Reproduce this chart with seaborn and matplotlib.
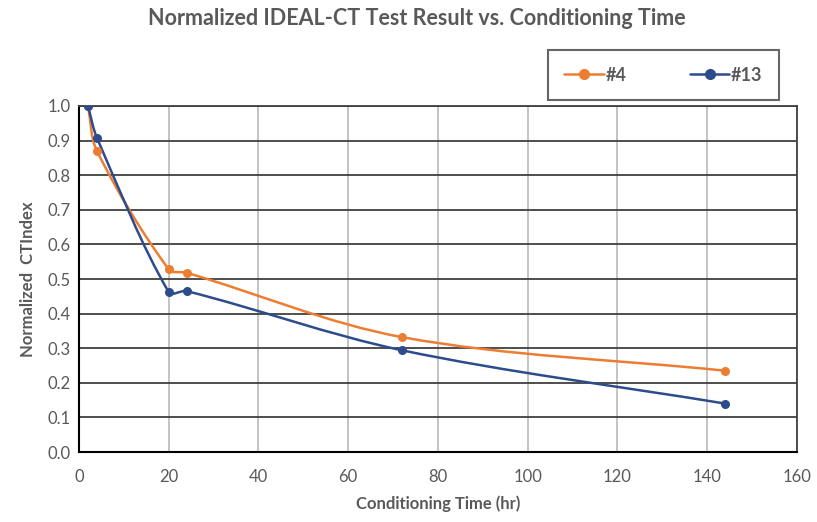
import numpy as np
import pandas as pd
import matplotlib
matplotlib.use("Agg")
import matplotlib.pyplot as plt
from matplotlib.path import Path
from matplotlib.patches import PathPatch
from matplotlib.ticker import MultipleLocator
import seaborn as sns

# data
hours = [2, 4, 20, 24, 72, 144]
ct_4 = [1.0, 0.87, 0.528, 0.518, 0.332, 0.235]
ct_13 = [1.0, 0.908, 0.462, 0.465, 0.294, 0.140]
series_names = ["#4", "#13"]
colors = ["#ED7D31", "#2C4C8C"]

df = pd.DataFrame({
    "hr": hours * 2,
    "ct": ct_4 + ct_13,
    "mix": [series_names[0]] * len(hours) + [series_names[1]] * len(hours),
})

sns.set_style("white")
plt.rcParams["font.family"] = ["Lato", "DejaVu Sans"]
text_col = "#595959"

# rough pixel size of one data unit, so smoothing behaves like on screen
SX, SY = 4.49, 346.0


def smooth_path(x, y):
    # smoothed line, bezier with chord-length scaled tangents
    pts = np.column_stack([np.asarray(x) * SX, np.asarray(y) * SY]).astype(float)
    n = len(pts)
    d = np.linalg.norm(np.diff(pts, axis=0), axis=1)
    tang = np.zeros_like(pts)
    for i in range(n):
        if i == 0:
            tang[i] = (pts[1] - pts[0]) / d[0]
        elif i == n - 1:
            tang[i] = (pts[-1] - pts[-2]) / d[-1]
        else:
            tang[i] = (pts[i + 1] - pts[i - 1]) / (d[i - 1] + d[i])
    verts = [pts[0]]
    codes = [Path.MOVETO]
    for i in range(n - 1):
        c1 = pts[i] + tang[i] * d[i] / 3
        c2 = pts[i + 1] - tang[i + 1] * d[i] / 3
        verts += [c1, c2, pts[i + 1]]
        codes += [Path.CURVE4] * 3
    verts = np.array(verts) / [SX, SY]
    return Path(verts, codes)


fig = plt.figure(figsize=(8.17, 5.22), dpi=100)
ax = fig.add_axes([0.0967, 0.134, 0.8788, 0.663])

for name, col in zip(series_names, colors):
    sub = df[df["mix"] == name]
    ax.add_patch(PathPatch(smooth_path(sub["hr"], sub["ct"]), fill=False,
                           edgecolor=col, lw=1.8, zorder=3))

sns.lineplot(data=df, x="hr", y="ct", hue="mix", palette=colors, marker="o",
             markersize=6.5, markeredgewidth=0, linewidth=0, ax=ax, legend=False,
             zorder=4)

ax.set_xlim(0, 160)
ax.set_ylim(0, 1.0)
ax.xaxis.set_major_locator(MultipleLocator(20))
ax.xaxis.set_minor_locator(MultipleLocator(4))
ax.set_yticks(np.arange(0, 1.01, 0.1))
ax.set_yticklabels([f"{v:.1f}" for v in np.arange(0, 1.01, 0.1)])

ax.grid(axis="x", color="#BFBFBF", lw=1.3)
ax.grid(axis="y", color="#404040", lw=1.3)
ax.set_axisbelow(True)
for side in ["left", "bottom"]:
    ax.spines[side].set_color("black")
    ax.spines[side].set_linewidth(1.5)
for side in ["top", "right"]:
    ax.spines[side].set_color("#404040")
    ax.spines[side].set_linewidth(1.3)

ax.tick_params(axis="x", which="both", direction="in", length=5, color="black",
               labelsize=12, labelcolor=text_col, pad=12)
ax.tick_params(axis="y", which="both", direction="out", length=0,
               labelsize=12, labelcolor=text_col, pad=6)

ax.set_xlabel("Conditioning Time (hr)", fontsize=12, fontweight="bold",
              color=text_col, labelpad=8)
ax.set_ylabel("Normalized  CTIndex", fontsize=12, fontweight="bold",
              color=text_col, labelpad=8)
fig.suptitle("Normalized IDEAL-CT Test Result vs. Conditioning Time",
             x=0.51, y=0.985, fontsize=15.5, fontweight="bold", color=text_col)

handles = [plt.Line2D([], [], color=c, marker="o", markersize=7, lw=1.8)
           for c in colors]
leg = fig.legend(handles, series_names, ncol=2, loc="center",
                 bbox_to_anchor=(0.812, 0.856), frameon=True, fancybox=False,
                 fontsize=13, handlelength=2.2, handletextpad=0.1,
                 columnspacing=3.5, borderpad=0.9, borderaxespad=0)
leg.get_frame().set_edgecolor("#404040")
leg.get_frame().set_linewidth(1.5)
for t in leg.get_texts():
    t.set_color(text_col)
    t.set_fontweight("bold")

fig.savefig("out.png", dpi=100)
